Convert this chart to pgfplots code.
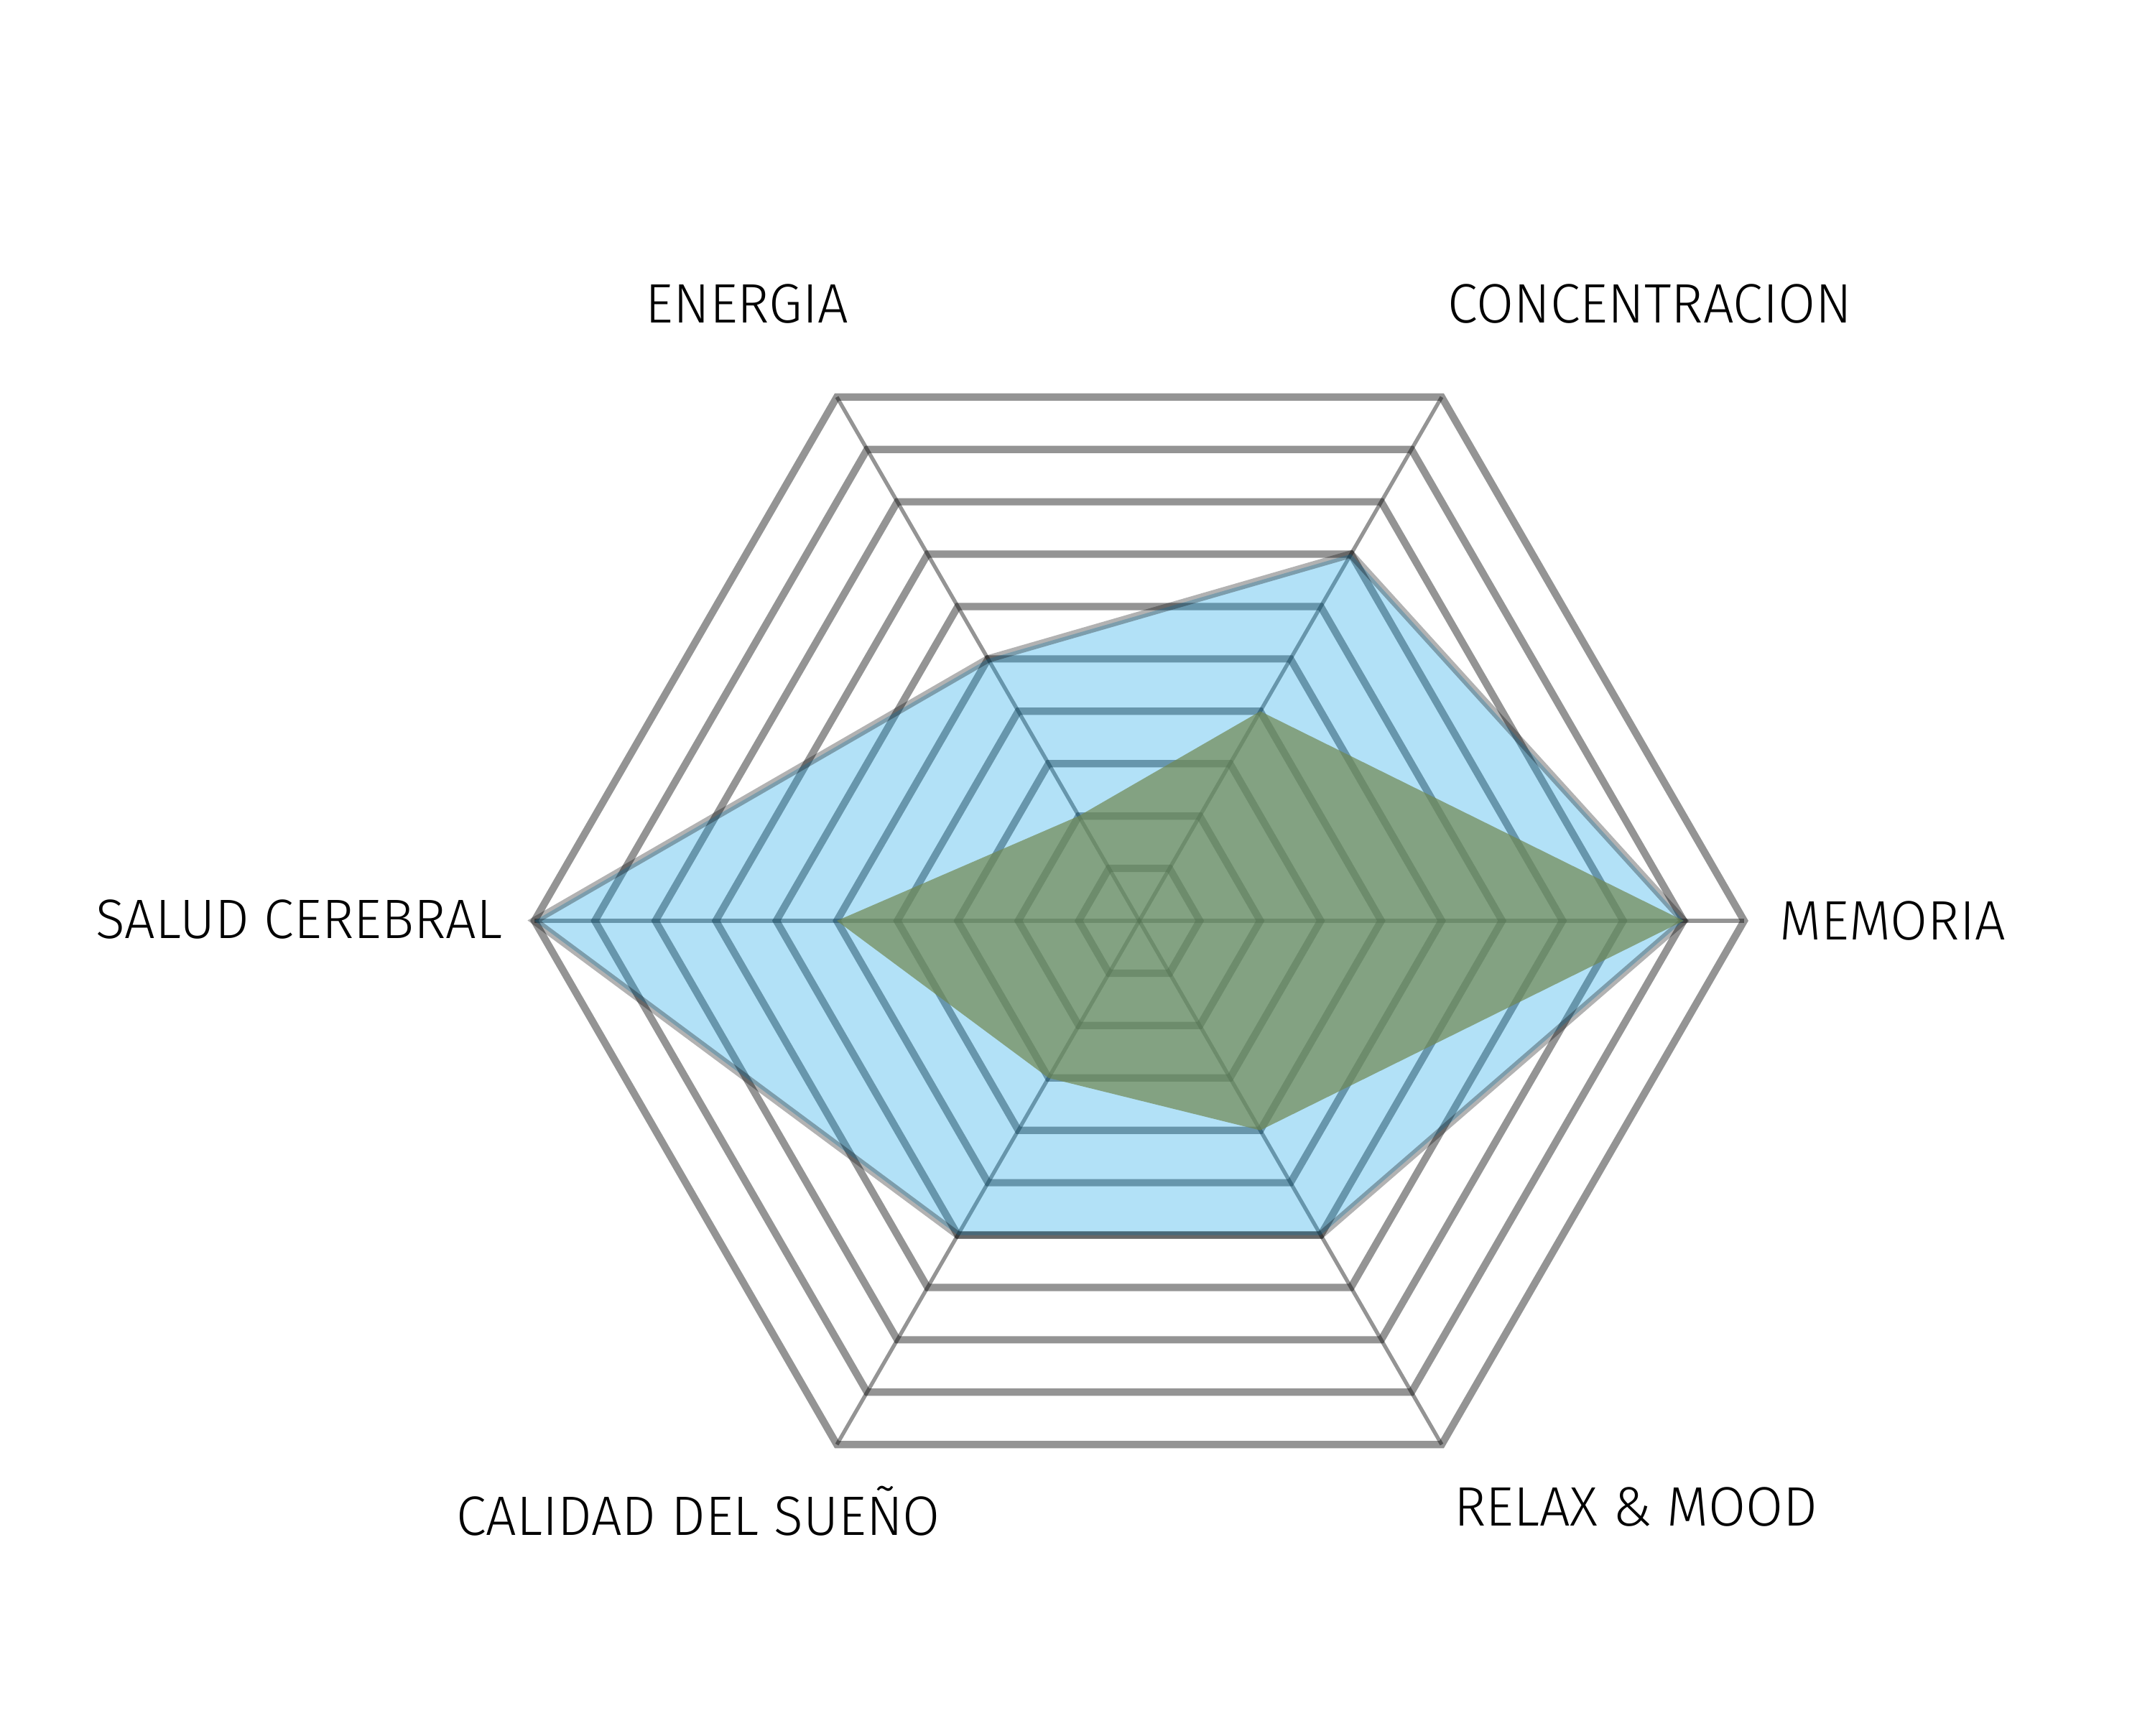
\documentclass[border=0pt]{standalone}
\usepackage{pgfplots}
\pgfplotsset{compat=1.18}
\usepgfplotslibrary{polar}
\usepackage{fontspec}
\setmainfont{Fira Sans}[UprightFont=* Light, FakeStretch=0.975]
\definecolor{bluefill}{RGB}{0,156,229}
\definecolor{greenfill}{RGB}{112,136,81}
\begin{document}
\begin{tikzpicture}
\useasboundingbox (0,0) rectangle (30,24.16);
\begin{polaraxis}[
  at={(15.86cm,11.34cm)}, anchor=center,
  scale only axis, width=16.84cm, height=16.84cm,
  hide axis, ymin=0, ymax=10, xmin=0, xmax=360, clip=false,
  ring/.style={no marks, draw=black, draw opacity=0.42, line width=2.9pt, line join=miter},
  spoke/.style={no marks, draw=black, draw opacity=0.42, line width=1.5pt},
]
% grid rings
\addplot[ring] coordinates {(0,1) (60,1) (120,1) (180,1) (240,1) (300,1)} --cycle;
\addplot[ring] coordinates {(0,2) (60,2) (120,2) (180,2) (240,2) (300,2)} --cycle;
\addplot[ring] coordinates {(0,3) (60,3) (120,3) (180,3) (240,3) (300,3)} --cycle;
\addplot[ring] coordinates {(0,4) (60,4) (120,4) (180,4) (240,4) (300,4)} --cycle;
\addplot[ring] coordinates {(0,5) (60,5) (120,5) (180,5) (240,5) (300,5)} --cycle;
\addplot[ring] coordinates {(0,6) (60,6) (120,6) (180,6) (240,6) (300,6)} --cycle;
\addplot[ring] coordinates {(0,7) (60,7) (120,7) (180,7) (240,7) (300,7)} --cycle;
\addplot[ring] coordinates {(0,8) (60,8) (120,8) (180,8) (240,8) (300,8)} --cycle;
\addplot[ring] coordinates {(0,9) (60,9) (120,9) (180,9) (240,9) (300,9)} --cycle;
\addplot[ring] coordinates {(0,10) (60,10) (120,10) (180,10) (240,10) (300,10)} --cycle;
% spokes
\addplot[spoke] coordinates {(0,10) (180,10)};
\addplot[spoke] coordinates {(60,10) (240,10)};
\addplot[spoke] coordinates {(120,10) (300,10)};
% blue series
\addplot[no marks, fill=bluefill, fill opacity=0.3, draw=black, draw opacity=0.3, line width=3pt, line join=miter]
  coordinates {(0,9) (60,7) (120,5) (180,10) (240,6) (300,6)} --cycle;
% green series
\addplot[no marks, draw=none, fill=greenfill, fill opacity=0.7]
  coordinates {(0,9) (60,4) (120,2) (180,5) (240,3) (300,4)} --cycle;
\end{polaraxis}
\begin{scope}[every node/.style={font=\fontsize{22pt}{26pt}\selectfont, inner sep=0pt}]
\node[anchor=base] at (10.40,19.66) {ENERGIA};
\node[anchor=base] at (22.97,19.66) {CONCENTRACION};
\node[anchor=base west] at (24.77,11.07) {MEMORIA};
\node[anchor=base east] at (7.00,11.09) {SALUD CEREBRAL};
\node[anchor=base] at (9.72,2.79) {CALIDAD DEL SUEÑO};
\node[anchor=base] at (22.77,2.92) {RELAX \& MOOD};
\end{scope}
\end{tikzpicture}
\end{document}
